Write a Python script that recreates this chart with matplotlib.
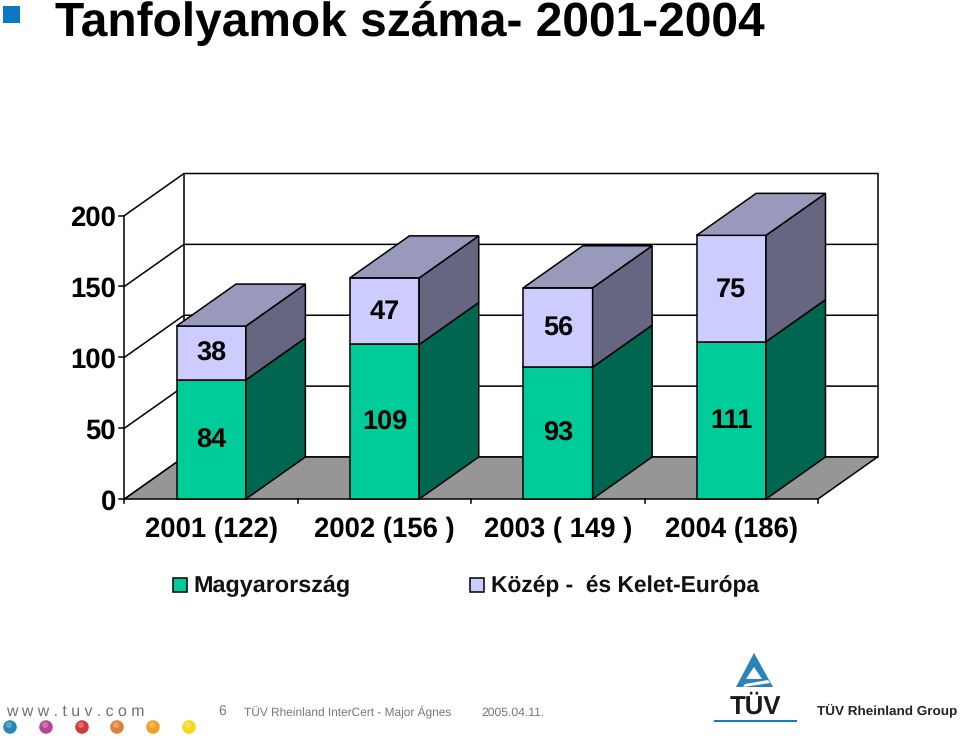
import numpy as np
import matplotlib
matplotlib.use('Agg')
import matplotlib.pyplot as plt
from matplotlib.patches import Polygon, Rectangle

plt.rcParams['font.family'] = ['Liberation Sans', 'DejaVu Sans']
plt.rcParams['text.hinting'] = 'none'

# data
categories = ['2001 (122)', '2002 (156 )', '2003 ( 149 )', '2004 (186)']
hungary = [84, 109, 93, 111]
central_east = [38, 47, 56, 75]
y_ticks = [0, 50, 100, 150, 200]
legend_labels = ['Magyarország', 'Közép -  és Kelet-Európa']
dot_colors = ['#2a86b8', '#b5478f', '#d23a3a', '#dd7f3a', '#f0a020', '#f4d818']
dot_x = [10, 46, 82, 117, 153, 189]

W, H = 960, 739
# where the front plane of the chart sits, in pixels
left_px, right_px = 124.5, 818
zero_px, top_px = 499, 215.5
cat_px = (right_px - left_px) / 4
val_px = (zero_px - top_px) / 200
depth_x = 59.5 / cat_px   # in category units
depth_y = 42 / val_px     # in value units
bar_w = 0.4

GREEN, GREEN_SIDE = '#00cc99', '#006650'
LILAC, LILAC_TOP, LILAC_SIDE = '#ccccff', '#9999bb', '#666680'
FLOOR = '#969696'

fig = plt.figure(figsize=(9.6, 7.39), dpi=100)

# pixel layer for the slide furniture
bg = fig.add_axes([0, 0, 1, 1])
bg.set_xlim(0, W)
bg.set_ylim(H, 0)
bg.axis('off')

ax = fig.add_axes([0, 0, 1, 1])
ax.set_xlim(-left_px / cat_px, (W - left_px) / cat_px)
ax.set_ylim((zero_px - H) / val_px, zero_px / val_px)
ax.axis('off')
ax.patch.set_alpha(0)

LW = 1.1

# walls + gridlines
for v in y_ticks:
    ax.plot([0, depth_x, 4 + depth_x], [v, v + depth_y, v + depth_y], color='black', lw=LW, zorder=1,
            solid_joinstyle='miter')
    ax.plot([-0.03, 0], [v, v], color='black', lw=LW, zorder=1)
ax.plot([0, 0], [0, 200], color='black', lw=LW, zorder=1)
ax.plot([depth_x, depth_x], [depth_y, 200 + depth_y], color='black', lw=LW, zorder=1)
ax.plot([4 + depth_x, 4 + depth_x], [depth_y, 200 + depth_y], color='black', lw=LW, zorder=1)

# floor
ax.add_patch(Polygon([(0, 0), (4, 0), (4 + depth_x, depth_y), (depth_x, depth_y)],
                     facecolor=FLOOR, edgecolor='black', lw=LW, zorder=2))
for i in range(5):
    ax.plot([i, i], [0, -3], color='black', lw=LW, zorder=2)


def box(x0, y0, y1, front, side, top=None, z=3):
    x1 = x0 + bar_w
    ax.add_patch(Polygon([(x0, y0), (x1, y0), (x1, y1), (x0, y1)],
                         facecolor=front, edgecolor='black', lw=LW, zorder=z))
    ax.add_patch(Polygon([(x1, y0), (x1 + depth_x, y0 + depth_y), (x1 + depth_x, y1 + depth_y), (x1, y1)],
                         facecolor=side, edgecolor='black', lw=LW, zorder=z))
    if top:
        ax.add_patch(Polygon([(x0, y1), (x1, y1), (x1 + depth_x, y1 + depth_y), (x0 + depth_x, y1 + depth_y)],
                             facecolor=top, edgecolor='black', lw=LW, zorder=z))


for i, cat in enumerate(categories):
    x0 = i + 0.5 - bar_w / 2
    a, b = hungary[i], central_east[i]
    box(x0, 0, a, GREEN, GREEN_SIDE)
    box(x0, a, a + b, LILAC, LILAC_SIDE, LILAC_TOP)
    ax.text(i + 0.5, a / 2 - 0.7, str(a), ha='center', va='center', fontsize=19.5, fontweight='bold', zorder=5)
    ax.text(i + 0.5, a + b / 2 - 0.7, str(b), ha='center', va='center', fontsize=19.5, fontweight='bold', zorder=5)
    ax.text(i + 0.5, -21.5, cat, ha='center', va='center', fontsize=19.8, fontweight='bold', zorder=5)

for v in y_ticks:
    ax.text(-0.05, v - 2.2, str(v), ha='right', va='center', fontsize=19.8, fontweight='bold')

# title
bg.add_patch(Rectangle((3, 6), 17, 17, facecolor='#0a78c4', edgecolor='none'))
bg.text(55, 36, 'Tanfolyamok száma- 2001-2004', fontsize=34.45, fontweight='bold', ha='left', va='baseline', color='black')

# legend
bg.add_patch(Rectangle((172.5, 578), 14, 14, facecolor=GREEN, edgecolor='black', lw=LW))
bg.text(193, 592, legend_labels[0], fontsize=16.8, ha='left', va='baseline', fontweight='bold', color='#111111')
bg.add_patch(Rectangle((469.5, 578), 14, 14, facecolor=LILAC, edgecolor='black', lw=LW))
bg.text(491, 592, legend_labels[1], fontsize=16.4, ha='left', va='baseline', fontweight='bold', color='#111111')

# footer
bg.text(6, 716, 'w w w . t u v . c o m', fontsize=11.4, ha='left', va='baseline', color='#707070')
bg.text(218, 715, '6', fontsize=10, ha='left', va='baseline', color='#777777')
bg.text(244, 716, 'TÜV Rheinland InterCert - Major Ágnes', fontsize=8.6, ha='left', va='baseline', color='#777777')
bg.text(481, 716, '2005.04.11.', fontsize=8.7, ha='left', va='baseline', color='#777777')
for px, c in zip(dot_x, dot_colors):
    bg.scatter([px], [727], s=95, color=c, edgecolors='none', zorder=3)
    bg.scatter([px - 1], [725], s=20, color='white', alpha=0.25, edgecolors='none', zorder=4)

# logo
bg.add_patch(Polygon([(754, 653), (773, 687), (736, 687)], closed=True, facecolor='#2a84b8', edgecolor='none'))
bg.add_patch(Polygon([(754, 667), (762, 679), (746, 679)], closed=True, facecolor='white', edgecolor='none'))
bg.add_patch(Polygon([(745, 684), (768, 680), (770, 683), (743, 687)], closed=True, facecolor='white', edgecolor='none'))
bg.text(755, 714, 'TÜV', fontsize=18.5, fontweight='bold', ha='center', va='baseline', color='#1a1a1a')
bg.plot([715, 796], [721, 721], color='#1f7ba8', lw=1.5)
bg.text(817, 714, 'TÜV Rheinland Group', fontsize=9.7, fontweight='bold', ha='left', va='baseline', color='#222222')

fig.savefig('out.png', dpi=100, facecolor='white')
